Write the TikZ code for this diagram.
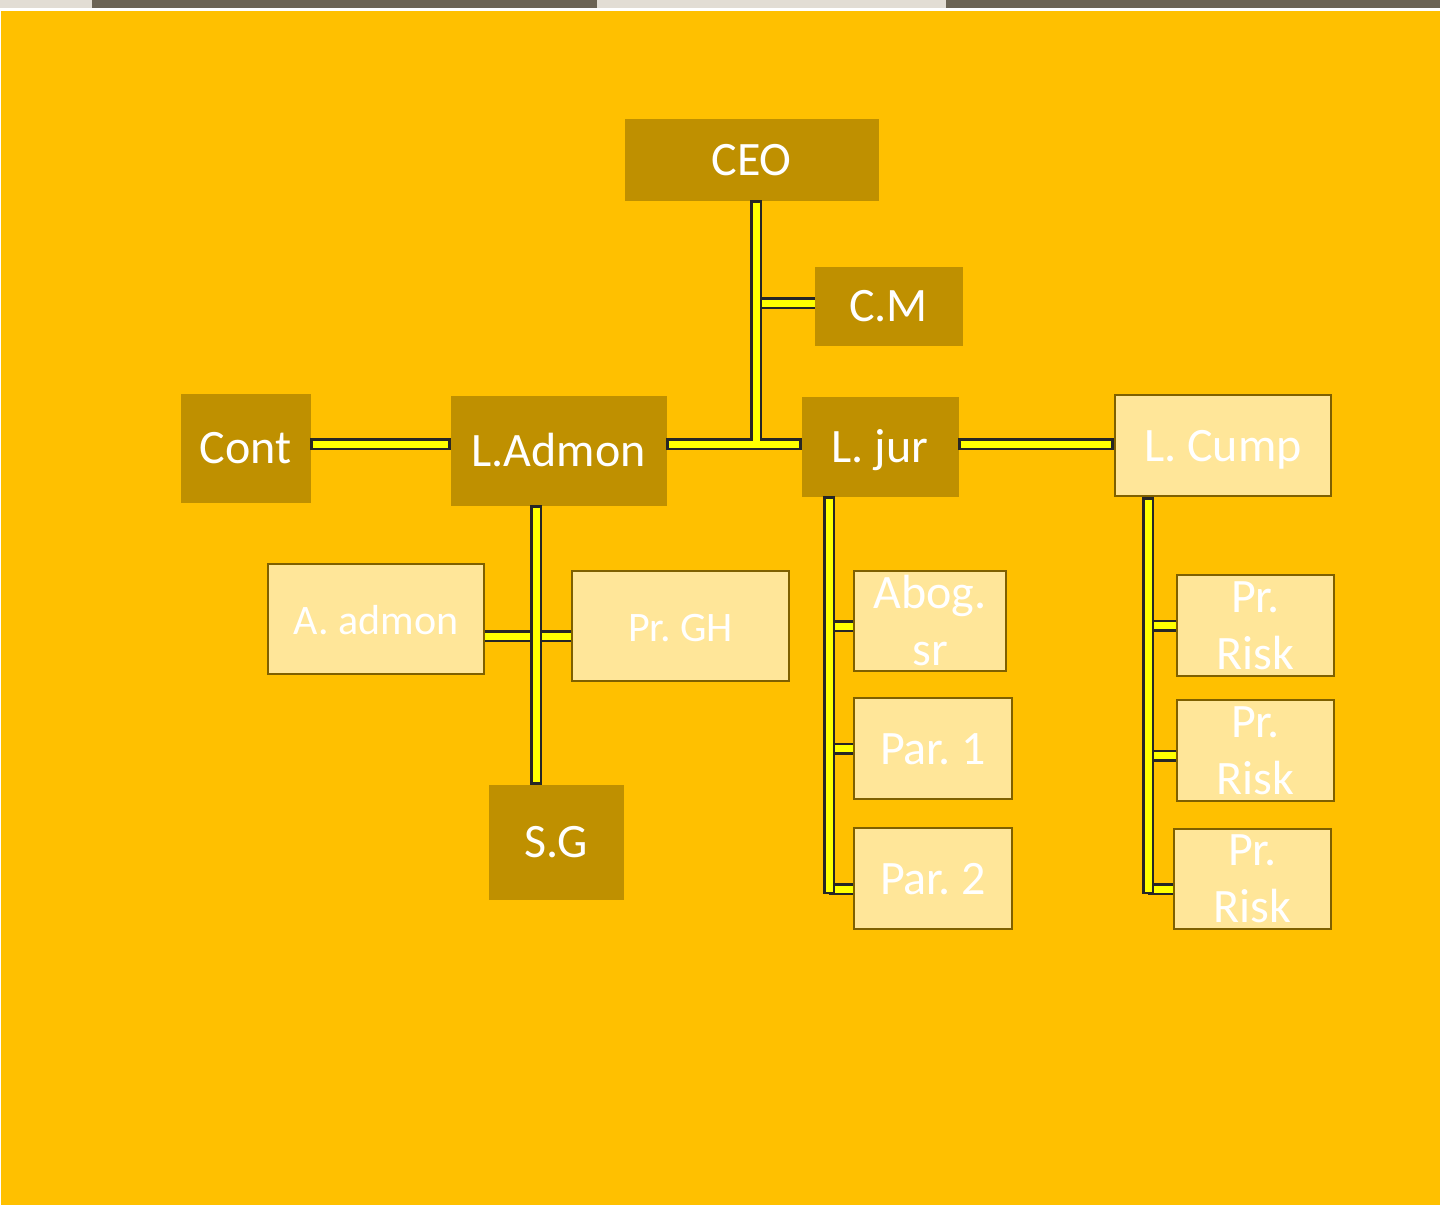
\documentclass[tikz,border=0pt]{standalone}
\usepackage{fontspec}
\setmainfont{Carlito}
\usepackage{tikz}
\frenchspacing

\definecolor{bgorange}{HTML}{FFC000}
\definecolor{boxdark}{HTML}{BF9000}
\definecolor{boxlight}{HTML}{FFE699}
\definecolor{boxedge}{HTML}{7F6000}
\definecolor{wiredark}{HTML}{262626}
\definecolor{wireyellow}{HTML}{FFFF00}
\definecolor{photodark}{HTML}{6B6354}
\definecolor{photolight}{HTML}{E2DDD4}

\tikzset{
  oneline/.style={text height=31pt, text depth=0pt},
  darkbox/.style={fill=boxdark, draw=boxdark, text=white, inner sep=0pt,
    font=\fontsize{48}{57}\selectfont, oneline},
  lightbox/.style={fill=boxlight, draw=boxedge, line width=2.5pt, text=white,
    inner sep=0pt, align=center, font=\fontsize{48}{57}\selectfont},
  wireout/.style={draw=wiredark, line width=12pt},
  wirein/.style={draw=wireyellow, line width=7pt},
  wiretop/.style={wirein, shorten <=2.5pt, shorten >=2.5pt},
}

% short side branches, drawn first
\newcommand\orgbranches[1]{%
  \draw[#1] ([yshift=3pt]cm.west) -- ([yshift=3pt]cm.west -| hub);
  \draw[#1] (aadm.east |- atrunk) -- (prgh.west |- atrunk);
  \draw[#1] ([yshift=-5pt]abog.west) -- ([yshift=-5pt]abog.west -| jfoot);
  \draw[#1] (par1.west) -- (par1.west -| jfoot);
  \draw[#1] ([yshift=5pt]par2.west |- jfoot) -- ([yshift=5pt]jfoot);
  \draw[#1] (risk1.west) -- (risk1.west -| cfoot);
  \draw[#1] ([yshift=-5pt]risk2.west) -- ([yshift=-5pt]risk2.west -| cfoot);
  \draw[#1] ([yshift=5pt]risk3.west |- cfoot) -- ([yshift=5pt]cfoot);
}
% main lines, drawn over the branches
\newcommand\orgtrunks[1]{%
  \draw[#1] (ceo.south -| hub) -- (hub);
  \draw[#1] (cont.east |- hub) -- (ladm.west |- hub);
  \draw[#1] (ladm.east |- hub) -- (ljur.west |- hub);
  \draw[#1] (ljur.east |- hub) -- (lcump.west |- hub);
  \draw[#1] (ladm.south -| atrunk) -- (sg.north -| atrunk);
  \draw[#1] (ljur.south -| jfoot) -- (jfoot);
  \draw[#1] (lcump.south -| cfoot) -- (cfoot);
}

\begin{document}
\begin{tikzpicture}[x=1pt, y=-1pt]
  % page and photo strip
  \fill[white] (0,0) rectangle (1440,1205);
  \fill[photolight] (0,0) rectangle (92,8);
  \fill[photodark] (92,0) rectangle (597,8);
  \fill[photolight] (597,0) rectangle (946,8);
  \fill[photodark] (946,0) rectangle (1440,8);
  \fill[bgorange] (1,11) rectangle (1440,1205);

  % top levels
  \node[darkbox, minimum width=253pt, minimum height=81pt] (ceo) at (751.5,159.5) {CEO};
  \node[darkbox, minimum width=147pt, minimum height=78pt] (cm) at (888.5,306) {C.M};
  \node[darkbox, minimum width=129pt, minimum height=108pt] (cont) at (245.5,448) {Cont};
  \node[darkbox, minimum width=215pt, minimum height=109pt] (ladm) at (558.5,450.5) {L.Admon};
  \node[darkbox, minimum width=156pt, minimum height=99pt] (ljur) at (880,446.5) {L. jur};
  \node[lightbox, oneline, minimum width=216pt, minimum height=101pt] (lcump) at (1223,445.5) {L. Cump};

  % admin branch
  \node[lightbox, oneline, font=\fontsize{42}{50}\selectfont, minimum width=216pt, minimum height=110pt] (aadm) at (376,619) {A. admon};
  \node[lightbox, oneline, font=\fontsize{42}{50}\selectfont, minimum width=217pt, minimum height=110pt] (prgh) at (680.5,626) {Pr. GH};
  \node[darkbox, minimum width=134pt, minimum height=114pt] (sg) at (556,842) {S.G};

  % legal branch
  \node[lightbox, minimum width=152pt, minimum height=100pt] (abog) at (930,621) {Abog.\\sr};
  \node[lightbox, oneline, minimum width=158pt, minimum height=101pt] (par1) at (933,748.5) {Par. 1};
  \node[lightbox, oneline, minimum width=158pt, minimum height=101pt] (par2) at (933,878.5) {Par. 2};

  % compliance branch
  \node[lightbox, minimum width=157pt, minimum height=101pt] (risk1) at (1255.5,625.5) {Pr.\\Risk};
  \node[lightbox, minimum width=157pt, minimum height=101pt] (risk2) at (1255.5,750.5) {Pr.\\Risk};
  \node[lightbox, minimum width=157pt, minimum height=100pt] (risk3) at (1252.5,879) {Pr.\\Risk};

  \coordinate (hub) at (756,444);
  \coordinate (atrunk) at (536,636);
  \coordinate (jfoot) at (829,894);
  \coordinate (cfoot) at (1148,894);

  \orgbranches{wireout}
  \orgbranches{wirein}
  \orgtrunks{wireout}
  \orgtrunks{wiretop}
\end{tikzpicture}
\end{document}
